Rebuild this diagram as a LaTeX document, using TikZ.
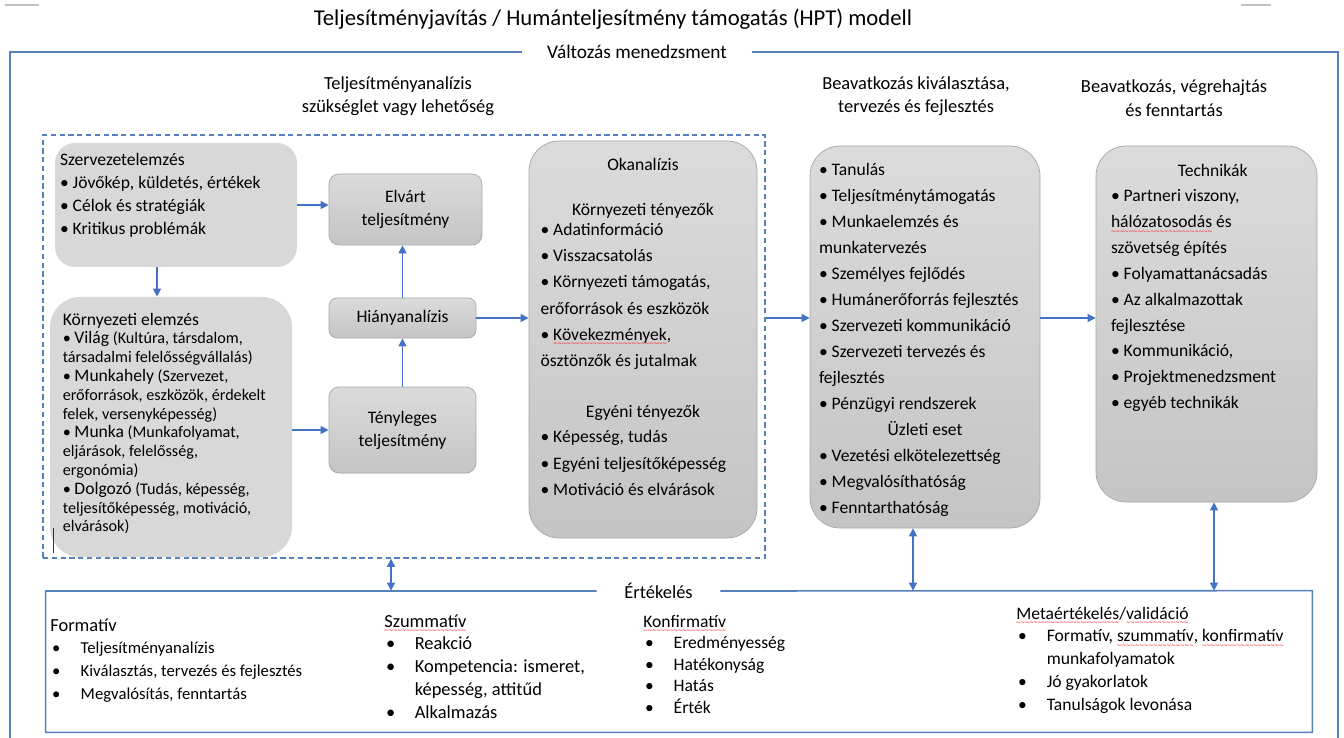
\documentclass[tikz,border=0pt]{standalone}
\usepackage{fontspec}
\setmainfont{Carlito}
\newfontfamily\wavefont{DejaVu Sans}
\usetikzlibrary{arrows.meta}

\definecolor{linkblue}{RGB}{68,114,196}
\definecolor{frameblue}{RGB}{84,128,188}
\definecolor{boxgray}{RGB}{216,216,216}

% red spell-check wave under a word
\newcommand{\spell}[1]{\setbox2=\hbox{#1}\leavevmode\rlap{\raisebox{-3pt}[0pt][0pt]{\textcolor{red}{\hbox to\wd2{\wavefont\fontsize{3.5}{3.5}\selectfont\xleaders\hbox{\kern-0.25pt ∼\kern-0.25pt}\hfill}}}}\box2\relax}
% bullet item inside a box, continuation lines hang under the text
\newcommand{\itm}[1]{\noindent\setbox0=\hbox{\textbullet\ }\hangindent=\wd0 \hangafter=1 \box0 #1\par}
% bullet item of the evaluation columns
\newcommand{\evitm}[1]{\noindent\hangindent=17.3pt\hangafter=1\makebox[17.3pt][l]{\hspace{1pt}\textbullet}#1\par}
\newcommand{\kw}[1]{{\fontsize{10}{10.6}\selectfont #1}}

\begin{document}
\begin{tikzpicture}[
  flatbox/.style={fill=boxgray, inner sep=0.1cm},
  shadebox/.style={draw=gray!70, top color=gray!28, bottom color=gray!46, inner sep=0.23cm},
  smallbox/.style={shadebox, rounded corners=0.2cm, align=center, font=\fontsize{10}{13}\selectfont},
  head/.style={align=center, font=\fontsize{10.5}{12.8}\selectfont},
  gaplabel/.style={inner xsep=0.55cm, font=\fontsize{10.5}{12}\selectfont},
  evtext/.style={anchor=base west, inner sep=0},
  link/.style={draw=linkblue, line width=0.7pt, -{Triangle[length=4.6pt,width=4.6pt]}},
  dlink/.style={draw=linkblue, line width=0.7pt, {Triangle[length=4.6pt,width=4.6pt]}-{Triangle[length=4.6pt,width=4.6pt]}},
  frameline/.style={draw=frameblue, line width=0.9pt}
]
\useasboundingbox (0,0) rectangle (26.88,-14.76);

\draw[gray!50, line width=0.6pt] (0.1,-0.1) -- (0.78,-0.1);
\draw[gray!50, line width=0.6pt] (24.82,-0.1) -- (25.42,-0.1);

\node[font=\fontsize{12.9}{14}\selectfont] (title) at (12.26,-0.38)
  {Teljesítményjavítás / Humánteljesítmény támogatás (HPT) modell};

% change management frame
\node[gaplabel, inner xsep=0.5cm, font=\fontsize{11}{12}\selectfont] (valtozas) at (12.74,-1.04) {Változás menedzsment};
\draw[frameline] (valtozas.west) -| (0.2,-14.76);
\draw[frameline] (valtozas.east) -| (26.76,-14.76);

\node[head] (anahead) at (7.96,-1.92) {Teljesítményanalízis\\szükséglet vagy lehetőség};
\node[head] (valhead) at (18.32,-1.92) {Beavatkozás kiválasztása,\\tervezés és fejlesztés};
\node[head, font=\fontsize{10.5}{14}\selectfont] (vegrhead) at (23.48,-1.96) {Beavatkozás, végrehajtás\\és fenntartás};

\node[draw=frameblue, dashed, dash pattern=on 3pt off 2pt, line width=0.8pt,
  minimum width=14.44cm, minimum height=8.46cm] (scope) at (8.08,-6.93) {};

% performance analysis
\node[flatbox, rounded corners=0.4cm, font=\fontsize{10}{13}\selectfont] (szerv) at (3.52,-4.1)
  {\parbox[c][2.28cm][t]{4.64cm}{\raggedright\rule{0pt}{10pt}Szervezetelemzés\par
   \itm{Jövőkép, küldetés, értékek}
   \itm{Célok és stratégiák}
   \itm{Kritikus problémák}}};
\node[flatbox, rounded corners=0.6cm, inner xsep=0.15cm, inner ysep=0.21cm, font=\fontsize{9.2}{10.7}\selectfont] (korny) at (3.42,-8.54)
  {\parbox[c][4.78cm][t]{4.54cm}{\raggedright\leftskip=3pt\rule{0pt}{10pt}\kw{Környezeti elemzés}\par
   \itm{\kw{Világ} (Kultúra, társdalom,\\társadalmi felelősségvállalás)}
   \itm{\kw{Munkahely} (Szervezet,\\erőforrások, eszközök, érdekelt\\felek, versenyképesség)}
   \itm{\kw{Munka} (Munkafolyamat,\\eljárások, felelősség,\\ergonómia)}
   \itm{\kw{Dolgozó} (Tudás, képesség,\\teljesítőképesség, motiváció,\\elvárások)}}};
\draw[black!80, line width=0.5pt] (1.06,-10.56) -- (1.06,-11.06);

\node[smallbox, minimum width=3.06cm, minimum height=1.42cm] (elvart) at (8.11,-4.19) {Elvárt\\teljesítmény};
\node[smallbox, rounded corners=0.16cm, minimum width=2.94cm, minimum height=0.8cm] (hiany) at (8.05,-6.36) {Hiányanalízis};
\node[smallbox, minimum width=2.94cm, minimum height=1.72cm] (teny) at (8.05,-8.6) {Tényleges\\teljesítmény};

\node[shadebox, rounded corners=0.6cm, font=\fontsize{10}{15}\selectfont] (okan) at (12.86,-6.79)
  {\parbox[c][7.48cm][t]{4.1cm}{\raggedright\rule{0pt}{10pt}{\centering Okanalízis\par}
   \vspace{10.6pt}
   {\centering Környezeti tényezők\par}
   \vspace{-3.6pt}
   \itm{Adatinformáció}
   \itm{Visszacsatolás}
   \itm{Környezeti támogatás,\\erőforrások és eszközök}
   \itm{\spell{Kövekezmények},\\ösztönzők és jutalmak}
   \vspace{14pt}
   {\centering Egyéni tényezők\par}
   \vspace{-0.8pt}
   \itm{Képesség, tudás}
   \itm{Egyéni teljesítőképesség}
   \itm{Motiváció és elvárások}}};

% selection, design and development
\node[shadebox, rounded corners=0.6cm, inner xsep=0.18cm, font=\fontsize{10}{14.8}\selectfont] (valaszt) at (18.5,-6.74)
  {\parbox[c][7.18cm][t]{4.24cm}{\raggedright\rule{0pt}{10pt}\itm{Tanulás}
   \itm{Teljesítménytámogatás}
   \itm{Munkaelemzés és\\munkatervezés}
   \itm{Személyes fejlődés}
   \itm{Humánerőforrás fejlesztés}
   \itm{Szervezeti kommunikáció}
   \itm{Szervezeti tervezés és\\fejlesztés}
   \itm{Pénzügyi rendszerek}
   {\centering Üzleti eset\par}
   \itm{Vezetési elkötelezettség}
   \itm{Megvalósíthatóság}
   \itm{Fenntarthatóság}}};

% implementation and maintenance
\node[shadebox, rounded corners=0.6cm, inner xsep=0.3cm, inner ysep=0.25cm, font=\fontsize{10}{14.7}\selectfont] (techn) at (24.13,-6.48)
  {\parbox[c][6.62cm][t]{3.82cm}{\raggedright\rule{0pt}{10pt}{\centering\hspace*{7pt}Technikák\par}
   \itm{Partneri viszony,\\\spell{hálózatosodás} és\\szövetség építés}
   \itm{Folyamattanácsadás}
   \itm{Az alkalmazottak\\fejlesztése}
   \itm{Kommunikáció,}
   \itm{Projektmenedzsment}
   \itm{egyéb technikák}}};

\draw[link] ([xshift=-0.38cm]szerv.south) -- ([xshift=-0.38cm]szerv.south |- korny.north);
\draw[link] (szerv.east) -- (szerv.east -| elvart.west);
\draw[link] (korny.east |- teny.west) -- (teny.west);
\draw[link] (hiany.north) -- (hiany.north |- elvart.south);
\draw[link] (teny.north) -- (hiany.south);
\draw[link] (hiany.east) -- (hiany.east -| okan.west);
\draw[link] (scope.east |- hiany.east) -- (valaszt.west |- hiany.east);
\draw[link] (valaszt.east |- hiany.east) -- (techn.west |- hiany.east);

% evaluation
\node[minimum width=25.32cm, minimum height=2.82cm] (eval) at (13.58,-13.23) {};
\node[gaplabel] (evlab) at (13.17,-11.82) {Értékelés};
\draw[frameline] (evlab.west) -| (eval.south west) -| (eval.north east) -- (evlab.east);

\draw[dlink] ([xshift=-0.26cm]scope.south) -- ([xshift=-0.26cm]scope.south |- eval.north);
\draw[dlink] ([xshift=-0.24cm]valaszt.south) -- ([xshift=-0.24cm]valaszt.south |- eval.north);
\draw[dlink] ([xshift=0.15cm]techn.south) -- ([xshift=0.15cm]techn.south |- eval.north);

\node[evtext, font=\fontsize{9.5}{13}\selectfont] (formativ) at (1.0,-12.62)
  {\parbox[t]{6cm}{{\fontsize{10.5}{13}\selectfont Formatív}\par
   \evitm{Teljesítményanalízis}
   \evitm{Kiválasztás, tervezés és fejlesztés}
   \evitm{Megvalósítás, fenntartás}}};
\node[evtext, font=\fontsize{10.5}{13}\selectfont] (szummativ) at (7.68,-12.54)
  {\parbox[t]{5cm}{\spell{Szummatív}\par
   \evitm{Reakció}
   \evitm{Kompetencia: ismeret,\\képesség, attitűd}
   \evitm{Alkalmazás}}};
\node[evtext, font=\fontsize{10}{12.3}\selectfont] (konfirm) at (12.86,-12.54)
  {\parbox[t]{5cm}{\spell{Konfirmatív}\par
   \evitm{Eredményesség}
   \evitm{Hatékonyság}
   \evitm{Hatás}
   \evitm{Érték}}};
\node[evtext, font=\fontsize{10}{13}\selectfont] (meta) at (20.32,-12.38)
  {\parbox[t]{6cm}{\spell{Metaértékelés}/\spell{validáció}\par
   \evitm{Formatív, \spell{szummatív}, \spell{konfirmatív}\\munkafolyamatok}
   \evitm{Jó gyakorlatok}
   \evitm{Tanulságok levonása}}};
\end{tikzpicture}
\end{document}
